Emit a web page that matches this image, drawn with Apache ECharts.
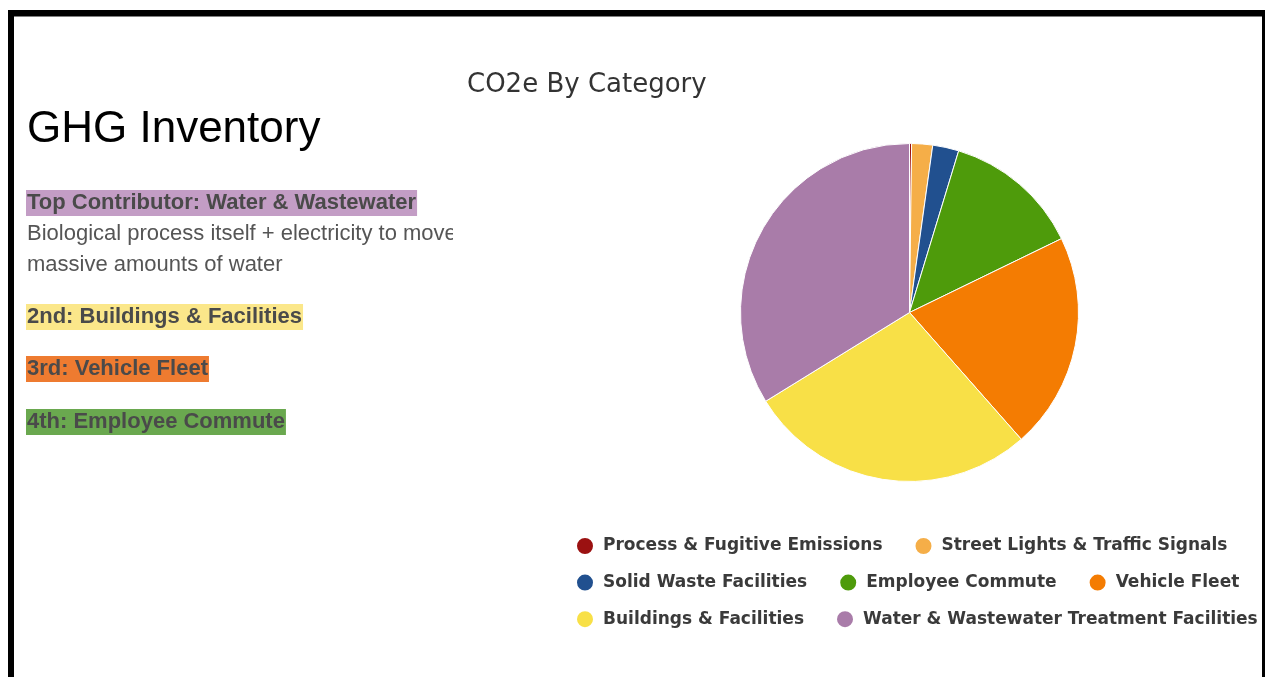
<!DOCTYPE html>
<html>
<head>
<meta charset="utf-8">
<title>GHG Inventory</title>
<script src="https://cdn.jsdelivr.net/npm/echarts@6/dist/echarts.min.js"></script>
<style>
  html, body { margin: 0; padding: 0; background: #ffffff; }
  #chart { width: 1265px; height: 677px; }
</style>
</head>
<body>
<div id="chart"></div>
<script>
// Emission categories (share of total CO2e, %)
const categories = [
  'Process & Fugitive Emissions',
  'Street Lights & Traffic Signals',
  'Solid Waste Facilities',
  'Employee Commute',
  'Vehicle Fleet',
  'Buildings & Facilities',
  'Water & Wastewater Treatment Facilities'
];
const co2eShare = [0.2, 2.0, 2.5, 13.1, 20.7, 27.7, 33.8];
const categoryColors = ['#9b1111', '#f5ae48', '#21508f', '#4e9b0b', '#f47c02', '#f8e047', '#a97ca9'];

// Legend rows
const legendRows = [
  ['Process & Fugitive Emissions', 'Street Lights & Traffic Signals'],
  ['Solid Waste Facilities', 'Employee Commute', 'Vehicle Fleet'],
  ['Buildings & Facilities', 'Water & Wastewater Treatment Facilities']
];

// Side notes
const pageHeading = 'GHG Inventory';
const chartTitle = 'CO2e By Category';
const highlights = [
  { text: 'Top Contributor: Water & Wastewater', bg: '#c39dc5', y: 190 },
  { text: '2nd: Buildings & Facilities', bg: '#fbe78a', y: 304 },
  { text: '3rd: Vehicle Fleet', bg: '#ee7b30', y: 356 },
  { text: '4th: Employee Commute', bg: '#6aa84f', y: 409 }
];
const noteLines = ['Biological process itself + electricity to move', 'massive amounts of water'];

const chart = echarts.init(document.getElementById('chart'), null, { renderer: 'canvas' });

const graphics = [];
// frame
graphics.push({ type: 'rect', shape: { x: 8, y: 10, width: 1257, height: 6.5 }, style: { fill: '#000' }, silent: true, z: 100 });
graphics.push({ type: 'rect', shape: { x: 8, y: 10, width: 6, height: 667 }, style: { fill: '#000' }, silent: true, z: 100 });
graphics.push({ type: 'rect', shape: { x: 1262, y: 10, width: 3, height: 667 }, style: { fill: '#000' }, silent: true, z: 100 });

// heading
graphics.push({
  type: 'text', left: 27, top: 108, silent: true,
  style: { text: pageHeading, fill: '#000', font: '44px "Liberation Sans", Arial, sans-serif' }
});

// highlighted notes
highlights.forEach(h => {
  graphics.push({
    type: 'text', left: 26, top: h.y, silent: true,
    style: {
      text: h.text,
      fill: '#4a4a4a',
      font: 'bold 22px "Liberation Sans", Arial, sans-serif',
      backgroundColor: h.bg,
      lineHeight: 26,
      padding: [0, 1, 0, 1]
    }
  });
});

// plain note lines
noteLines.forEach((t, i) => {
  graphics.push({
    type: 'text', left: 27, top: 221 + i * 31, silent: true,
    style: { text: t, fill: '#555', font: '22px "Liberation Sans", Arial, sans-serif', lineHeight: 26 }
  });
});
// text box edge
graphics.push({ type: 'rect', shape: { x: 453, y: 218, width: 12, height: 34 }, style: { fill: '#fff' }, silent: true, z: 50 });

const legends = legendRows.map((row, i) => ({
  data: row,
  left: 570,
  top: 531 + i * 36.6,
  orient: 'horizontal',
  icon: 'circle',
  itemWidth: 26,
  itemHeight: 18,
  itemGap: 31,
  selectedMode: false,
  textStyle: {
    color: '#3a3a3a',
    fontFamily: '"DejaVu Sans", Verdana, sans-serif',
    fontWeight: 'bold',
    fontSize: 17
  }
}));

chart.setOption({
  backgroundColor: '#ffffff',
  animation: false,
  title: {
    text: chartTitle,
    left: 462,
    top: 67,
    textStyle: {
      color: '#333',
      fontFamily: '"DejaVu Sans", Verdana, sans-serif',
      fontWeight: 'normal',
      fontSize: 26
    }
  },
  legend: legends,
  color: categoryColors,
  series: [{
    type: 'pie',
    center: [909.5, 312.5],
    radius: [0, 169],
    startAngle: 90,
    clockwise: true,
    label: { show: false },
    labelLine: { show: false },
    itemStyle: { borderColor: '#ffffff', borderWidth: 1 },
    emphasis: { scale: false },
    data: categories.map((name, i) => ({ name, value: co2eShare[i] }))
  }],
  graphic: graphics
});
</script>
</body>
</html>
